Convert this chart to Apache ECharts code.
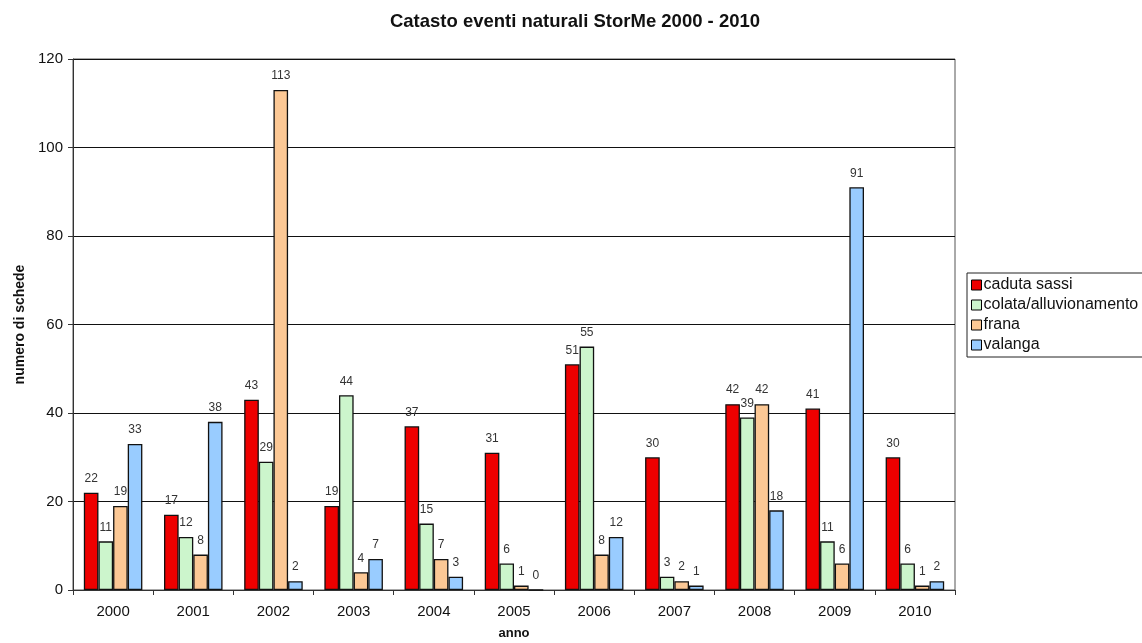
<!DOCTYPE html>
<html><head><meta charset="utf-8">
<script src="https://cdn.jsdelivr.net/npm/echarts@6/dist/echarts.min.js"></script>
<style>html,body{margin:0;padding:0;background:#fff}#c{width:1142px;height:643px}</style>
</head><body><div id="c"></div>
<script>
const years = ['2000','2001','2002','2003','2004','2005','2006','2007','2008','2009','2010'];
const cadutaSassi = [22,17,43,19,37,31,51,30,42,41,30];
const colata = [11,12,29,44,15,6,55,3,39,11,6];
const frana = [19,8,113,4,7,1,8,2,42,6,1];
const valanga = [33,38,2,7,3,0,12,1,18,91,2];
const seriesNames = ['caduta sassi','colata/alluvionamento','frana','valanga'];
const colors = ['#ee0000','#ccf5cc','#fcc895','#99ccff'];
const allData = [cadutaSassi, colata, frana, valanga];

const chart = echarts.init(document.getElementById('c'));
chart.setOption({
  animation:false,
  backgroundColor:'#fff',
  textStyle:{fontFamily:'Liberation Sans, Arial, sans-serif'},
  title:{text:'Catasto eventi naturali StorMe 2000 - 2010',left:570,textAlign:'center',top:7,
    textStyle:{fontSize:18.5,fontWeight:'bold',color:'#111'}},
  legend:{orient:'vertical',left:967,top:273,itemWidth:10,itemHeight:10,itemGap:4,
    padding:[4,6,4,4],borderColor:'#222',borderWidth:1,
    textStyle:{fontSize:16,color:'#111',padding:[0,0,0,-3]},
    data:seriesNames.map(n=>({name:n,icon:'rect',itemStyle:{borderColor:'#000',borderWidth:1}}))},
  grid:{left:73,right:187,top:59,bottom:53,show:true,borderColor:'#555',borderWidth:1,
    containLabel:false,outerBoundsMode:'none'},
  xAxis:{type:'category',data:years,name:'anno',nameLocation:'middle',nameGap:37,
    nameTextStyle:{fontSize:13,fontWeight:'bold',color:'#111'},
    axisLine:{lineStyle:{color:'#333'}},axisTick:{show:true,length:5,lineStyle:{color:'#333'}},
    axisLabel:{fontSize:15,color:'#111',margin:14}},
  yAxis:{type:'value',min:0,max:120,interval:20,name:'numero di schede',nameLocation:'middle',nameGap:46,
    nameTextStyle:{fontSize:14,fontWeight:'bold',color:'#111'},
    axisLine:{show:true,lineStyle:{color:'#333'}},axisTick:{show:true,length:5,lineStyle:{color:'#333'}},
    axisLabel:{fontSize:15,color:'#111',margin:10},
    splitLine:{lineStyle:{color:'#111',width:1}}},
  series: seriesNames.map((n,i)=>({
    name:n,type:'bar',data:allData[i],barGap:'0%',barCategoryGap:'27%',
    itemStyle:{color:colors[i],borderColor:'#111',borderWidth:1.3},
    label:{show:true,position:'top',fontSize:12,color:'#333',distance:8}
  }))
});
</script></body></html>
